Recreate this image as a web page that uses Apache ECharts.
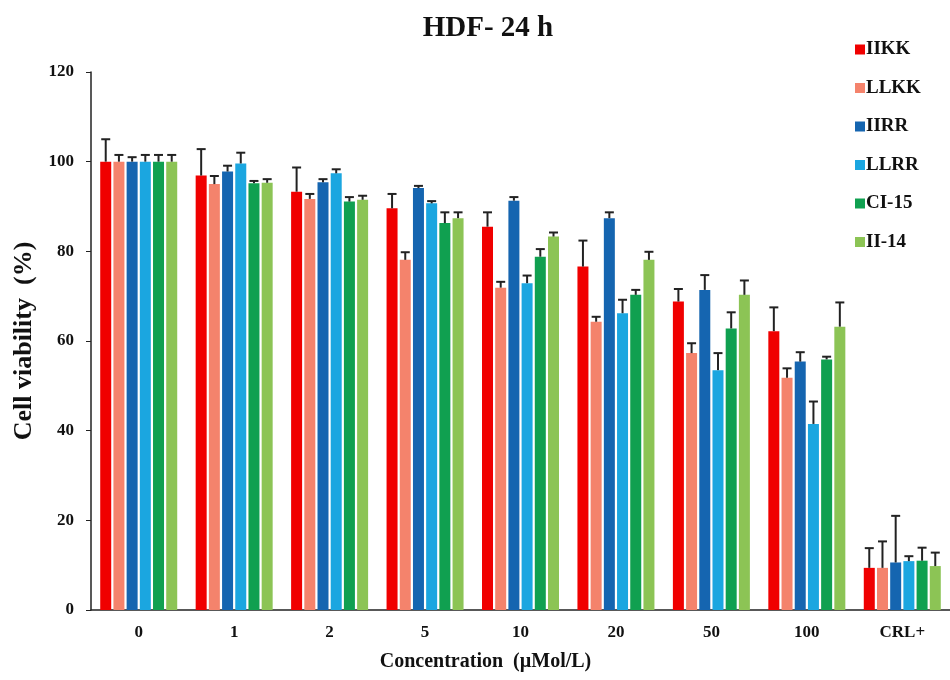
<!DOCTYPE html>
<html>
<head>
<meta charset="utf-8">
<script src="https://cdn.jsdelivr.net/npm/echarts@6/dist/echarts.min.js"></script>
<style>html,body{margin:0;padding:0;background:#fff}#c{width:950px;height:680px}</style>
</head>
<body>
<div id="c"></div>
<script>
const categories = ['0', '1', '2', '5', '10', '20', '50', '100', 'CRL+'];
const seriesNames = ['IIKK', 'LLKK', 'IIRR', 'LLRR', 'CI-15', 'II-14'];
const colors = ['#f00000', '#f4836c', '#1565b0', '#1ba6e0', '#10a050', '#8cc455'];

const IIKK     = [100, 96.9, 93.3, 89.6, 85.5, 76.6, 68.8, 62.2, 9.4];
const IIKK_err = [5.0, 5.9, 5.4, 3.2, 3.2, 5.8, 2.8, 5.3, 4.4];
const LLKK     = [100, 95.0, 91.7, 78.1, 71.9, 64.3, 57.3, 51.8, 9.4];
const LLKK_err = [1.5, 1.8, 1.1, 1.7, 1.3, 1.1, 2.2, 2.1, 5.9];
const IIRR     = [100, 97.8, 95.4, 94.1, 91.3, 87.4, 71.4, 55.4, 10.6];
const IIRR_err = [1.0, 1.3, 0.7, 0.5, 0.8, 1.3, 3.3, 2.1, 10.4];
const LLRR     = [100, 99.6, 97.4, 90.7, 72.9, 66.2, 53.5, 41.5, 10.9];
const LLRR_err = [1.5, 2.4, 0.9, 0.5, 1.7, 3.0, 3.8, 5.0, 1.1];
const CI15     = [100, 95.2, 91.1, 86.3, 78.8, 70.3, 62.8, 55.9, 11.0];
const CI15_err = [1.5, 0.5, 1.0, 2.4, 1.7, 1.1, 3.6, 0.6, 2.9];
const II14     = [100, 95.3, 91.5, 87.4, 83.3, 78.1, 70.3, 63.2, 9.8];
const II14_err = [1.5, 0.8, 0.9, 1.3, 0.9, 1.8, 3.2, 5.4, 3.0];

const yTicks = [0, 20, 40, 60, 80, 100, 120];

const values = [IIKK, LLKK, IIRR, LLRR, CI15, II14];
const errors = [IIKK_err, LLKK_err, IIRR_err, LLRR_err, CI15_err, II14_err];

const BAR_W = 11, BAR_GAP = 2.2;
const FONT = '"Liberation Serif", "DejaVu Serif", serif';

const chart = echarts.init(document.getElementById('c'), null, {renderer: 'canvas'});

const series = [];
values.forEach((vals, s) => {
  series.push({
    name: seriesNames[s],
    type: 'bar',
    data: vals,
    barWidth: BAR_W,
    barGap: (BAR_GAP / BAR_W * 100) + '%',
    itemStyle: {color: colors[s]},
    z: 2
  });
});
values.forEach((vals, s) => {
  const offset = (s - 2.5) * (BAR_W + BAR_GAP);
  series.push({
    name: seriesNames[s] + '_err',
    type: 'custom',
    data: vals.map((v, i) => [i, v, v + errors[s][i]]),
    encode: {x: 0, y: [1, 2]},
    z: 3,
    silent: true,
    renderItem: function (params, api) {
      const i = api.value(0);
      const p0 = api.coord([i, api.value(1)]);
      const p1 = api.coord([i, api.value(2)]);
      const x = p0[0] + offset;
      return {
        type: 'group',
        children: [
          {type: 'line', shape: {x1: x, y1: p0[1], x2: x, y2: p1[1]}, style: {stroke: '#222', lineWidth: 2}},
          {type: 'line', shape: {x1: x - 4.5, y1: p1[1], x2: x + 4.5, y2: p1[1]}, style: {stroke: '#222', lineWidth: 2}}
        ]
      };
    }
  });
});

chart.setOption({
  backgroundColor: '#fff',
  animation: false,
  title: {
    text: 'HDF- 24 h',
    left: 483, top: 9, textAlign: 'center',
    textStyle: {fontFamily: FONT, fontWeight: 'bold', fontSize: 29, color: '#111'}
  },
  legend: {
    data: seriesNames,
    orient: 'vertical',
    left: 850, top: 35,
    itemWidth: 10, itemHeight: 10,
    itemGap: 19.5,
    icon: 'rect',
    textStyle: {fontFamily: FONT, fontWeight: 'bold', fontSize: 19, color: '#111', padding: [0, 0, 0, -4]}
  },
  grid: {left: 91, top: 72, width: 868, bottom: 70, containLabel: false},
  xAxis: {
    type: 'category',
    data: categories,
    axisLine: {lineStyle: {color: '#222', width: 1.5}},
    axisTick: {show: false},
    axisLabel: {fontFamily: FONT, fontWeight: 'bold', fontSize: 17, color: '#111', margin: 14},
    name: 'Concentration  (\u00b5Mol/L)',
    nameLocation: 'middle',
    nameGap: 42,
    nameTextStyle: {fontFamily: FONT, fontWeight: 'bold', fontSize: 20, color: '#111', padding: [0, 0, 0, -70]}
  },
  yAxis: {
    type: 'value',
    min: 0, max: 120, interval: 20,
    splitLine: {show: false},
    axisLine: {show: true, lineStyle: {color: '#222', width: 1.5}},
    axisTick: {show: true, length: 5, lineStyle: {color: '#222'}},
    axisLabel: {fontFamily: FONT, fontWeight: 'bold', fontSize: 17, color: '#111', margin: 17,
      formatter: v => yTicks.includes(v) ? String(v) : ''},
    name: 'Cell viability  (%)',
    nameLocation: 'middle',
    nameGap: 54,
    nameTextStyle: {fontFamily: FONT, fontWeight: 'bold', fontSize: 26, color: '#111'}
  },
  series: series
});
</script>
</body>
</html>
